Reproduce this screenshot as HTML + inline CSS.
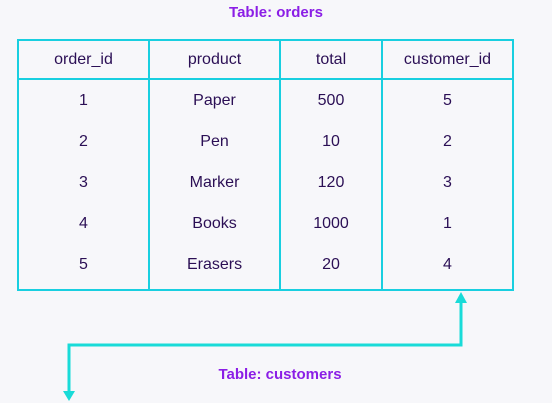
<!DOCTYPE html>
<html><head><style>
body{margin:0;width:552px;height:403px;background:#f7f7fa;position:relative;overflow:hidden;font-family:"Liberation Sans",sans-serif;}
.t{position:absolute;color:#8b1ee6;font-size:15px;font-weight:bold;text-align:center;}
table{position:absolute;left:17px;top:39px;border-collapse:collapse;border:2px solid #19cfe0;}
td{border:2px solid #19cfe0;text-align:center;color:#2b0f55;font-size:16px;padding:0;}
tr.h td{height:36px;padding-top:1px;}
tr.b td{border-top:none;border-bottom:none;height:41px;}
tr.l td{height:42px;padding-bottom:3px;}
</style></head><body>
<div class="t" style="left:0;width:552px;top:4px">Table: orders</div>
<table>
<tr class="h"><td style="width:129px">order_id</td><td style="width:129px">product</td><td style="width:100px">total</td><td style="width:129px">customer_id</td></tr>
<tr class="b"><td>1</td><td>Paper</td><td>500</td><td>5</td></tr>
<tr class="b"><td>2</td><td>Pen</td><td>10</td><td>2</td></tr>
<tr class="b"><td>3</td><td>Marker</td><td>120</td><td>3</td></tr>
<tr class="b"><td>4</td><td>Books</td><td>1000</td><td>1</td></tr>
<tr class="b l"><td>5</td><td>Erasers</td><td>20</td><td>4</td></tr>
</table>
<svg width="552" height="403" style="position:absolute;left:0;top:0">
<polyline points="461,300 461,345 69,345 69,392" fill="none" stroke="#19dbd8" stroke-width="3"/>
<polygon points="461,292 455,303 467,303" fill="#19dbd8"/>
<polygon points="69,401 63,391 75,391" fill="#19dbd8"/>
</svg>
<div class="t" style="left:180px;width:200px;top:366px">Table: customers</div>
</body></html>
